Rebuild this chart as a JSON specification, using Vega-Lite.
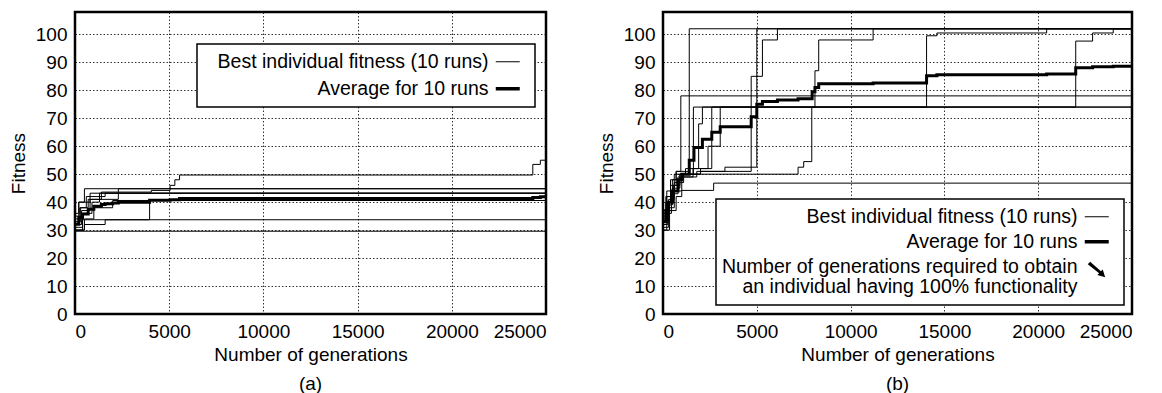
{
  "$schema": "https://vega.github.io/schema/vega-lite/v6.json",
  "padding": {"left": 8, "top": 10, "right": 0, "bottom": 0},
  "spacing": 48,
  "config": {
    "font": "Liberation Sans",
    "view": {"stroke": "black", "strokeWidth": 2.5},
    "axis": {"labelFontSize": 19, "titleFontSize": 19, "titleFontWeight": "normal", "labelColor": "black", "titleColor": "black", "grid": true, "gridColor": "#000", "gridDash": [1.5, 2], "gridWidth": 0.8, "domain": false, "ticks": false, "labelPadding": 8},
    "legend": {"labelFontSize": 19.5, "labelColor": "black", "labelAlign": "right", "labelOffset": -29, "symbolType": "stroke", "symbolSize": 576, "strokeColor": "black", "fillColor": "white", "padding": 8, "rowPadding": 4, "labelLimit": 0, "orient": "none"},
    "title": {"fontSize": 19, "fontWeight": "normal", "color": "black", "orient": "bottom", "offset": 11}
  },
  "resolve": {"scale": {"color": "independent"}, "legend": {"color": "independent"}},
  "datasets": {
    "a": [
      {"run": "1", "gen": 0, "fit": 33, "kind": "Best individual fitness (10 runs)"},
      {"run": "1", "gen": 300, "fit": 38, "kind": "Best individual fitness (10 runs)"},
      {"run": "1", "gen": 700, "fit": 41, "kind": "Best individual fitness (10 runs)"},
      {"run": "1", "gen": 1400, "fit": 43.6, "kind": "Best individual fitness (10 runs)"},
      {"run": "1", "gen": 4050, "fit": 44.2, "kind": "Best individual fitness (10 runs)"},
      {"run": "1", "gen": 5050, "fit": 46, "kind": "Best individual fitness (10 runs)"},
      {"run": "1", "gen": 5300, "fit": 48, "kind": "Best individual fitness (10 runs)"},
      {"run": "1", "gen": 5550, "fit": 49.7, "kind": "Best individual fitness (10 runs)"},
      {"run": "1", "gen": 24300, "fit": 53.5, "kind": "Best individual fitness (10 runs)"},
      {"run": "1", "gen": 24700, "fit": 55, "kind": "Best individual fitness (10 runs)"},
      {"run": "1", "gen": 25000, "fit": 55, "kind": "Best individual fitness (10 runs)"},
      {"run": "2", "gen": 0, "fit": 35, "kind": "Best individual fitness (10 runs)"},
      {"run": "2", "gen": 200, "fit": 40, "kind": "Best individual fitness (10 runs)"},
      {"run": "2", "gen": 500, "fit": 44.8, "kind": "Best individual fitness (10 runs)"},
      {"run": "2", "gen": 25000, "fit": 44.8, "kind": "Best individual fitness (10 runs)"},
      {"run": "3", "gen": 0, "fit": 31, "kind": "Best individual fitness (10 runs)"},
      {"run": "3", "gen": 400, "fit": 36, "kind": "Best individual fitness (10 runs)"},
      {"run": "3", "gen": 900, "fit": 40, "kind": "Best individual fitness (10 runs)"},
      {"run": "3", "gen": 1300, "fit": 43.2, "kind": "Best individual fitness (10 runs)"},
      {"run": "3", "gen": 25000, "fit": 43.2, "kind": "Best individual fitness (10 runs)"},
      {"run": "4", "gen": 0, "fit": 34, "kind": "Best individual fitness (10 runs)"},
      {"run": "4", "gen": 250, "fit": 38, "kind": "Best individual fitness (10 runs)"},
      {"run": "4", "gen": 600, "fit": 42, "kind": "Best individual fitness (10 runs)"},
      {"run": "4", "gen": 1600, "fit": 43.2, "kind": "Best individual fitness (10 runs)"},
      {"run": "4", "gen": 25000, "fit": 43.2, "kind": "Best individual fitness (10 runs)"},
      {"run": "5", "gen": 0, "fit": 32, "kind": "Best individual fitness (10 runs)"},
      {"run": "5", "gen": 350, "fit": 37, "kind": "Best individual fitness (10 runs)"},
      {"run": "5", "gen": 800, "fit": 41, "kind": "Best individual fitness (10 runs)"},
      {"run": "5", "gen": 2300, "fit": 44.8, "kind": "Best individual fitness (10 runs)"},
      {"run": "5", "gen": 25000, "fit": 44.8, "kind": "Best individual fitness (10 runs)"},
      {"run": "6", "gen": 0, "fit": 30, "kind": "Best individual fitness (10 runs)"},
      {"run": "6", "gen": 500, "fit": 34, "kind": "Best individual fitness (10 runs)"},
      {"run": "6", "gen": 1000, "fit": 38, "kind": "Best individual fitness (10 runs)"},
      {"run": "6", "gen": 2000, "fit": 40.6, "kind": "Best individual fitness (10 runs)"},
      {"run": "6", "gen": 25000, "fit": 40.6, "kind": "Best individual fitness (10 runs)"},
      {"run": "7", "gen": 0, "fit": 30, "kind": "Best individual fitness (10 runs)"},
      {"run": "7", "gen": 400, "fit": 33.7, "kind": "Best individual fitness (10 runs)"},
      {"run": "7", "gen": 3960, "fit": 40.6, "kind": "Best individual fitness (10 runs)"},
      {"run": "7", "gen": 25000, "fit": 40.6, "kind": "Best individual fitness (10 runs)"},
      {"run": "8", "gen": 0, "fit": 30, "kind": "Best individual fitness (10 runs)"},
      {"run": "8", "gen": 500, "fit": 32, "kind": "Best individual fitness (10 runs)"},
      {"run": "8", "gen": 1600, "fit": 33.7, "kind": "Best individual fitness (10 runs)"},
      {"run": "8", "gen": 25000, "fit": 33.7, "kind": "Best individual fitness (10 runs)"},
      {"run": "9", "gen": 0, "fit": 29.6, "kind": "Best individual fitness (10 runs)"},
      {"run": "9", "gen": 25000, "fit": 29.6, "kind": "Best individual fitness (10 runs)"},
      {"run": "10", "gen": 0, "fit": 36, "kind": "Best individual fitness (10 runs)"},
      {"run": "10", "gen": 200, "fit": 40, "kind": "Best individual fitness (10 runs)"},
      {"run": "10", "gen": 800, "fit": 43.2, "kind": "Best individual fitness (10 runs)"},
      {"run": "10", "gen": 25000, "fit": 43.2, "kind": "Best individual fitness (10 runs)"},
      {"run": "avg", "gen": 0, "fit": 32.1, "kind": "Average for 10 runs"},
      {"run": "avg", "gen": 200, "fit": 34.5, "kind": "Average for 10 runs"},
      {"run": "avg", "gen": 400, "fit": 35.8, "kind": "Average for 10 runs"},
      {"run": "avg", "gen": 700, "fit": 37.5, "kind": "Average for 10 runs"},
      {"run": "avg", "gen": 1000, "fit": 38.5, "kind": "Average for 10 runs"},
      {"run": "avg", "gen": 1400, "fit": 39.2, "kind": "Average for 10 runs"},
      {"run": "avg", "gen": 1600, "fit": 39.4, "kind": "Average for 10 runs"},
      {"run": "avg", "gen": 2000, "fit": 39.7, "kind": "Average for 10 runs"},
      {"run": "avg", "gen": 2300, "fit": 40, "kind": "Average for 10 runs"},
      {"run": "avg", "gen": 3960, "fit": 40.7, "kind": "Average for 10 runs"},
      {"run": "avg", "gen": 5050, "fit": 40.9, "kind": "Average for 10 runs"},
      {"run": "avg", "gen": 5550, "fit": 41.3, "kind": "Average for 10 runs"},
      {"run": "avg", "gen": 24300, "fit": 41.7, "kind": "Average for 10 runs"},
      {"run": "avg", "gen": 24700, "fit": 41.9, "kind": "Average for 10 runs"},
      {"run": "avg", "gen": 25000, "fit": 41.9, "kind": "Average for 10 runs"}
    ],
    "b": [
      {"run": "A", "gen": 0, "fit": 34, "kind": "Best individual fitness (10 runs)"},
      {"run": "A", "gen": 150, "fit": 40, "kind": "Best individual fitness (10 runs)"},
      {"run": "A", "gen": 400, "fit": 46, "kind": "Best individual fitness (10 runs)"},
      {"run": "A", "gen": 700, "fit": 51, "kind": "Best individual fitness (10 runs)"},
      {"run": "A", "gen": 1400, "fit": 102, "kind": "Best individual fitness (10 runs)"},
      {"run": "A", "gen": 25000, "fit": 102, "kind": "Best individual fitness (10 runs)"},
      {"run": "B", "gen": 0, "fit": 32, "kind": "Best individual fitness (10 runs)"},
      {"run": "B", "gen": 250, "fit": 39, "kind": "Best individual fitness (10 runs)"},
      {"run": "B", "gen": 500, "fit": 45, "kind": "Best individual fitness (10 runs)"},
      {"run": "B", "gen": 900, "fit": 50, "kind": "Best individual fitness (10 runs)"},
      {"run": "B", "gen": 2000, "fit": 51, "kind": "Best individual fitness (10 runs)"},
      {"run": "B", "gen": 3300, "fit": 52.5, "kind": "Best individual fitness (10 runs)"},
      {"run": "B", "gen": 5000, "fit": 102, "kind": "Best individual fitness (10 runs)"},
      {"run": "B", "gen": 25000, "fit": 102, "kind": "Best individual fitness (10 runs)"},
      {"run": "C", "gen": 0, "fit": 30, "kind": "Best individual fitness (10 runs)"},
      {"run": "C", "gen": 200, "fit": 36, "kind": "Best individual fitness (10 runs)"},
      {"run": "C", "gen": 450, "fit": 43, "kind": "Best individual fitness (10 runs)"},
      {"run": "C", "gen": 800, "fit": 49, "kind": "Best individual fitness (10 runs)"},
      {"run": "C", "gen": 1800, "fit": 51, "kind": "Best individual fitness (10 runs)"},
      {"run": "C", "gen": 4700, "fit": 85, "kind": "Best individual fitness (10 runs)"},
      {"run": "C", "gen": 5300, "fit": 98, "kind": "Best individual fitness (10 runs)"},
      {"run": "C", "gen": 6100, "fit": 102, "kind": "Best individual fitness (10 runs)"},
      {"run": "C", "gen": 25000, "fit": 102, "kind": "Best individual fitness (10 runs)"},
      {"run": "D", "gen": 0, "fit": 33, "kind": "Best individual fitness (10 runs)"},
      {"run": "D", "gen": 300, "fit": 41, "kind": "Best individual fitness (10 runs)"},
      {"run": "D", "gen": 600, "fit": 47, "kind": "Best individual fitness (10 runs)"},
      {"run": "D", "gen": 1100, "fit": 50, "kind": "Best individual fitness (10 runs)"},
      {"run": "D", "gen": 7200, "fit": 52.5, "kind": "Best individual fitness (10 runs)"},
      {"run": "D", "gen": 7500, "fit": 54.5, "kind": "Best individual fitness (10 runs)"},
      {"run": "D", "gen": 7930, "fit": 74, "kind": "Best individual fitness (10 runs)"},
      {"run": "D", "gen": 8100, "fit": 87, "kind": "Best individual fitness (10 runs)"},
      {"run": "D", "gen": 8300, "fit": 98, "kind": "Best individual fitness (10 runs)"},
      {"run": "D", "gen": 11200, "fit": 102, "kind": "Best individual fitness (10 runs)"},
      {"run": "D", "gen": 25000, "fit": 102, "kind": "Best individual fitness (10 runs)"},
      {"run": "E", "gen": 0, "fit": 36, "kind": "Best individual fitness (10 runs)"},
      {"run": "E", "gen": 200, "fit": 42, "kind": "Best individual fitness (10 runs)"},
      {"run": "E", "gen": 500, "fit": 48, "kind": "Best individual fitness (10 runs)"},
      {"run": "E", "gen": 1000, "fit": 50, "kind": "Best individual fitness (10 runs)"},
      {"run": "E", "gen": 2000, "fit": 52, "kind": "Best individual fitness (10 runs)"},
      {"run": "E", "gen": 2600, "fit": 74, "kind": "Best individual fitness (10 runs)"},
      {"run": "E", "gen": 14050, "fit": 99.5, "kind": "Best individual fitness (10 runs)"},
      {"run": "E", "gen": 14600, "fit": 100.5, "kind": "Best individual fitness (10 runs)"},
      {"run": "E", "gen": 20450, "fit": 102, "kind": "Best individual fitness (10 runs)"},
      {"run": "E", "gen": 25000, "fit": 102, "kind": "Best individual fitness (10 runs)"},
      {"run": "F", "gen": 0, "fit": 31, "kind": "Best individual fitness (10 runs)"},
      {"run": "F", "gen": 300, "fit": 38, "kind": "Best individual fitness (10 runs)"},
      {"run": "F", "gen": 600, "fit": 44, "kind": "Best individual fitness (10 runs)"},
      {"run": "F", "gen": 1000, "fit": 49, "kind": "Best individual fitness (10 runs)"},
      {"run": "F", "gen": 1600, "fit": 52, "kind": "Best individual fitness (10 runs)"},
      {"run": "F", "gen": 2400, "fit": 60, "kind": "Best individual fitness (10 runs)"},
      {"run": "F", "gen": 3050, "fit": 74, "kind": "Best individual fitness (10 runs)"},
      {"run": "F", "gen": 22000, "fit": 97.6, "kind": "Best individual fitness (10 runs)"},
      {"run": "F", "gen": 22900, "fit": 100.5, "kind": "Best individual fitness (10 runs)"},
      {"run": "F", "gen": 24000, "fit": 102, "kind": "Best individual fitness (10 runs)"},
      {"run": "F", "gen": 25000, "fit": 102, "kind": "Best individual fitness (10 runs)"},
      {"run": "G", "gen": 0, "fit": 35, "kind": "Best individual fitness (10 runs)"},
      {"run": "G", "gen": 150, "fit": 42, "kind": "Best individual fitness (10 runs)"},
      {"run": "G", "gen": 400, "fit": 48, "kind": "Best individual fitness (10 runs)"},
      {"run": "G", "gen": 700, "fit": 51, "kind": "Best individual fitness (10 runs)"},
      {"run": "G", "gen": 950, "fit": 78, "kind": "Best individual fitness (10 runs)"},
      {"run": "G", "gen": 25000, "fit": 78, "kind": "Best individual fitness (10 runs)"},
      {"run": "H", "gen": 0, "fit": 33, "kind": "Best individual fitness (10 runs)"},
      {"run": "H", "gen": 250, "fit": 40, "kind": "Best individual fitness (10 runs)"},
      {"run": "H", "gen": 550, "fit": 46, "kind": "Best individual fitness (10 runs)"},
      {"run": "H", "gen": 900, "fit": 50, "kind": "Best individual fitness (10 runs)"},
      {"run": "H", "gen": 1620, "fit": 74, "kind": "Best individual fitness (10 runs)"},
      {"run": "H", "gen": 25000, "fit": 74, "kind": "Best individual fitness (10 runs)"},
      {"run": "I", "gen": 0, "fit": 30, "kind": "Best individual fitness (10 runs)"},
      {"run": "I", "gen": 350, "fit": 37, "kind": "Best individual fitness (10 runs)"},
      {"run": "I", "gen": 700, "fit": 42, "kind": "Best individual fitness (10 runs)"},
      {"run": "I", "gen": 1000, "fit": 44.2, "kind": "Best individual fitness (10 runs)"},
      {"run": "I", "gen": 2700, "fit": 46.8, "kind": "Best individual fitness (10 runs)"},
      {"run": "I", "gen": 25000, "fit": 46.8, "kind": "Best individual fitness (10 runs)"},
      {"run": "J", "gen": 0, "fit": 37, "kind": "Best individual fitness (10 runs)"},
      {"run": "J", "gen": 200, "fit": 44, "kind": "Best individual fitness (10 runs)"},
      {"run": "J", "gen": 600, "fit": 50, "kind": "Best individual fitness (10 runs)"},
      {"run": "J", "gen": 1200, "fit": 52, "kind": "Best individual fitness (10 runs)"},
      {"run": "J", "gen": 1900, "fit": 68, "kind": "Best individual fitness (10 runs)"},
      {"run": "J", "gen": 2100, "fit": 74, "kind": "Best individual fitness (10 runs)"},
      {"run": "J", "gen": 25000, "fit": 74, "kind": "Best individual fitness (10 runs)"},
      {"run": "avg", "gen": 0, "fit": 33, "kind": "Average for 10 runs"},
      {"run": "avg", "gen": 150, "fit": 37, "kind": "Average for 10 runs"},
      {"run": "avg", "gen": 300, "fit": 40, "kind": "Average for 10 runs"},
      {"run": "avg", "gen": 500, "fit": 44, "kind": "Average for 10 runs"},
      {"run": "avg", "gen": 800, "fit": 48, "kind": "Average for 10 runs"},
      {"run": "avg", "gen": 1000, "fit": 50, "kind": "Average for 10 runs"},
      {"run": "avg", "gen": 1400, "fit": 55, "kind": "Average for 10 runs"},
      {"run": "avg", "gen": 1650, "fit": 59.5, "kind": "Average for 10 runs"},
      {"run": "avg", "gen": 2100, "fit": 62.5, "kind": "Average for 10 runs"},
      {"run": "avg", "gen": 2600, "fit": 65, "kind": "Average for 10 runs"},
      {"run": "avg", "gen": 3050, "fit": 67, "kind": "Average for 10 runs"},
      {"run": "avg", "gen": 4700, "fit": 70.5, "kind": "Average for 10 runs"},
      {"run": "avg", "gen": 5000, "fit": 75, "kind": "Average for 10 runs"},
      {"run": "avg", "gen": 5300, "fit": 76, "kind": "Average for 10 runs"},
      {"run": "avg", "gen": 6100, "fit": 76.5, "kind": "Average for 10 runs"},
      {"run": "avg", "gen": 7200, "fit": 77, "kind": "Average for 10 runs"},
      {"run": "avg", "gen": 7950, "fit": 79.5, "kind": "Average for 10 runs"},
      {"run": "avg", "gen": 8100, "fit": 81, "kind": "Average for 10 runs"},
      {"run": "avg", "gen": 8300, "fit": 82.3, "kind": "Average for 10 runs"},
      {"run": "avg", "gen": 11200, "fit": 82.6, "kind": "Average for 10 runs"},
      {"run": "avg", "gen": 14050, "fit": 85.2, "kind": "Average for 10 runs"},
      {"run": "avg", "gen": 14600, "fit": 85.6, "kind": "Average for 10 runs"},
      {"run": "avg", "gen": 20450, "fit": 85.8, "kind": "Average for 10 runs"},
      {"run": "avg", "gen": 22000, "fit": 88.1, "kind": "Average for 10 runs"},
      {"run": "avg", "gen": 22900, "fit": 88.4, "kind": "Average for 10 runs"},
      {"run": "avg", "gen": 24000, "fit": 88.6, "kind": "Average for 10 runs"},
      {"run": "avg", "gen": 25000, "fit": 88.6, "kind": "Average for 10 runs"}
    ]
  },
  "hconcat": [
    {
      "width": 471, "height": 302,
      "title": {"text": "(a)"},
      "data": {"name": "a"},
      "mark": {"type": "line", "interpolate": "step-after", "clip": true},
      "encoding": {
        "x": {"field": "gen", "type": "quantitative", "scale": {"domain": [0, 25000], "nice": false}, "axis": {"values": [0, 5000, 10000, 15000, 20000, 25000], "format": "d", "title": "Number of generations", "titlePadding": 4}},
        "y": {"field": "fit", "type": "quantitative", "scale": {"domain": [0, 108], "nice": false}, "axis": {"values": [0, 10, 20, 30, 40, 50, 60, 70, 80, 90, 100], "title": "Fitness", "titlePadding": 7}},
        "color": {"field": "kind", "type": "nominal", "scale": {"domain": ["Best individual fitness (10 runs)", "Average for 10 runs"], "range": ["black", "black"]},
          "legend": {"title": null, "legendX": 122, "legendY": 32, "symbolOffset": 293, "rowPadding": 6,
            "encode": {
              "symbols": {"update": {"strokeWidth": {"signal": "datum.value === 'Average for 10 runs' ? 3.5 : 1"}}},
              "legend": {"update": {"strokeWidth": {"value": 1.5}}}
            }}},
        "strokeWidth": {"condition": {"test": "datum.kind === 'Average for 10 runs'", "value": 3}, "value": 1},
        "detail": {"field": "run"}
      }
    },
    {
      "width": 469, "height": 302,
      "title": {"text": "(b)"},
      "data": {"name": "b"},
      "mark": {"type": "line", "interpolate": "step-after", "clip": true},
      "encoding": {
        "x": {"field": "gen", "type": "quantitative", "scale": {"domain": [0, 25000], "nice": false}, "axis": {"values": [0, 5000, 10000, 15000, 20000, 25000], "format": "d", "title": "Number of generations", "titlePadding": 4}},
        "y": {"field": "fit", "type": "quantitative", "scale": {"domain": [0, 108], "nice": false}, "axis": {"values": [0, 10, 20, 30, 40, 50, 60, 70, 80, 90, 100], "title": "Fitness", "titlePadding": 7}},
        "color": {"field": "kind", "type": "nominal", "scale": {"domain": ["Best individual fitness (10 runs)", "Average for 10 runs", "Number of generations required to obtain"], "range": ["black", "black", "black"]},
          "legend": {"title": null, "legendX": 53, "legendY": 187, "symbolOffset": 363,
            "labelExpr": "datum.label === 'Number of generations required to obtain' ? ['Number of generations required to obtain', 'an individual having 100% functionality'] : datum.label",
            "encode": {
              "symbols": {"update": {
                "strokeWidth": {"signal": "datum.value === 'Average for 10 runs' ? 3.5 : datum.value === 'Best individual fitness (10 runs)' ? 1 : 0"},
                "shape": {"signal": "datum.value === 'Number of generations required to obtain' ? 'M-0.75,-0.55L0.2,0.2L0.05,0.35L0.7,0.55L0.5,-0.1L0.35,0.05L-0.55,-0.75Z' : 'stroke'"},
                "fill": {"signal": "datum.value === 'Number of generations required to obtain' ? 'black' : 'transparent'"}
              }},
              "labels": {"enter": {"lineHeight": {"value": 20}}, "update": {"lineHeight": {"value": 20}, "dy": {"signal": "datum.value === 'Number of generations required to obtain' ? -4 : 0"}}},
              "legend": {"update": {"strokeWidth": {"value": 1.5}}}
            }}},
        "strokeWidth": {"condition": {"test": "datum.kind === 'Average for 10 runs'", "value": 3}, "value": 1},
        "detail": {"field": "run"}
      }
    }
  ]
}
